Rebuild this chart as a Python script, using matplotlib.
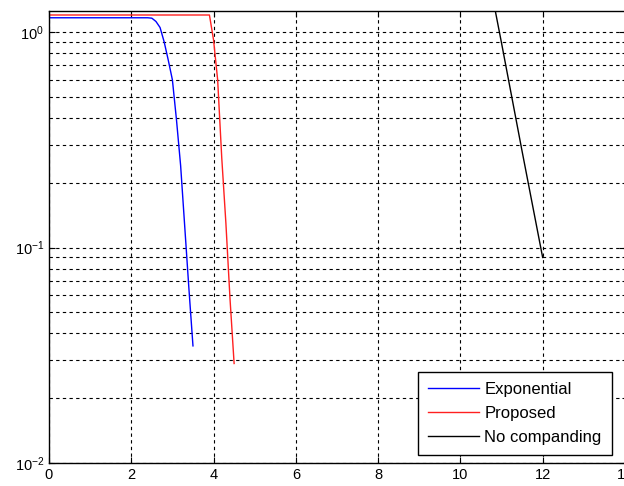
import matplotlib
matplotlib.use('Agg')
import matplotlib.pyplot as plt
from matplotlib.ticker import LogLocator, NullFormatter

plt.rcParams['font.family'] = ['Liberation Sans', 'DejaVu Sans']
plt.rcParams['mathtext.fontset'] = 'custom'
plt.rcParams['mathtext.rm'] = 'Liberation Sans'
plt.rcParams['mathtext.it'] = 'Liberation Sans'

# values
exp_x = [0, 2.4, 2.5, 2.6, 2.7, 2.8, 2.9, 3.0, 3.1, 3.2, 3.3, 3.4, 3.5]
exp_y = [1.165, 1.165, 1.16, 1.12, 1.05, 0.9, 0.74, 0.6, 0.39, 0.24, 0.125, 0.065, 0.035]

prop_x = [0, 3.9, 4.0, 4.1, 4.2, 4.3, 4.4, 4.5]
prop_y = [1.2, 1.2, 0.92, 0.6, 0.26, 0.13, 0.058, 0.029]

noc_x = [10.8, 11.0, 11.5, 12.0]
noc_y = [1.4, 0.89, 0.28, 0.09]

labels = ['Exponential', 'Proposed', 'No companding']
xticks = [0, 2, 4, 6, 8, 10, 12, 14]

fig = plt.figure(figsize=(6.24, 4.86), dpi=100)
ax = fig.add_axes([0.0785, 0.047, 0.923, 0.930])

ax.semilogy(exp_x, exp_y, color='#0000ff', lw=1.0, label=labels[0])
ax.semilogy(prop_x, prop_y, color='#ff2020', lw=1.0, label=labels[1])
ax.semilogy(noc_x, noc_y, color='black', lw=1.0, label=labels[2])

ax.set_xlim(0, 14)
ax.set_ylim(0.01, 1.25)
ax.set_xticks(xticks)
ax.yaxis.set_major_locator(LogLocator(base=10))
ax.yaxis.set_minor_locator(LogLocator(base=10, subs=range(2, 10)))
ax.yaxis.set_minor_formatter(NullFormatter())

dash = (0, (3, 3))
ax.grid(True, which='major', color='black', linestyle=dash, lw=0.8)
ax.grid(True, which='minor', axis='y', color='black', linestyle=dash, lw=0.8)
ax.set_axisbelow(True)

ax.tick_params(direction='in', top=True, right=True, labelsize=10.5, length=4)
ax.tick_params(which='minor', direction='in', right=True, length=2)
for s in ax.spines.values():
    s.set_linewidth(1.0)

leg = ax.legend(loc='lower right', bbox_to_anchor=(0.977, 0.018), borderaxespad=0,
                fontsize=12, frameon=True, fancybox=False, edgecolor='black',
                framealpha=1, handlelength=3.1, handletextpad=0.3,
                borderpad=0.6, labelspacing=0.55)
leg.get_frame().set_linewidth(1.0)

fig.savefig('out.png', dpi=100)
